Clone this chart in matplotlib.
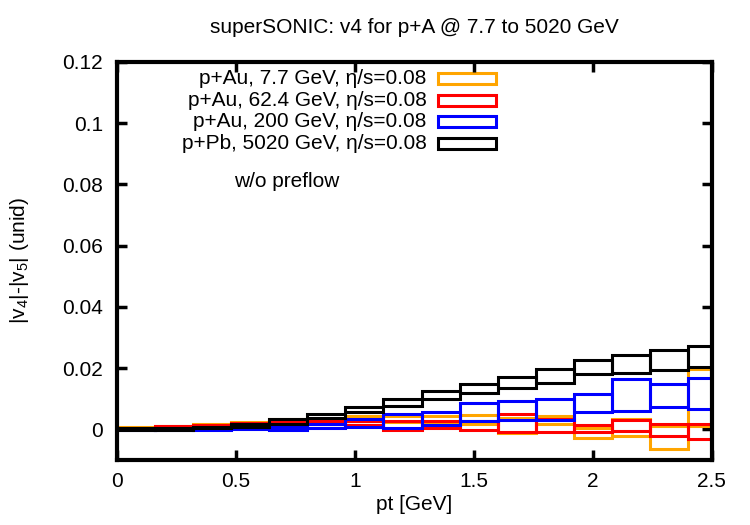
import matplotlib
matplotlib.use("Agg")
import matplotlib.pyplot as plt
from matplotlib.patches import Rectangle
import numpy as np

plt.rcParams['font.family'] = ['Liberation Sans', 'DejaVu Sans']
plt.rcParams['mathtext.fontset'] = 'custom'
plt.rcParams['mathtext.rm'] = 'Liberation Sans'
plt.rcParams['mathtext.it'] = 'Liberation Sans'
plt.rcParams['mathtext.default'] = 'regular'

# pt bins (GeV)
bin_edges = [0.0, 0.16, 0.32, 0.48, 0.64, 0.80, 0.96, 1.12, 1.28,
             1.44, 1.60, 1.76, 1.92, 2.08, 2.24, 2.40, 2.56]

labels = ["p+Au, 7.7 GeV, η/s=0.08",
          "p+Au, 62.4 GeV, η/s=0.08",
          "p+Au, 200 GeV, η/s=0.08",
          "p+Pb, 5020 GeV, η/s=0.08"]
colors = ["#ffa500", "#ff0000", "#0000ff", "#000000"]

# |v4|-|v5| mean and error per bin
au77_val = [0.0005, 0.0008, 0.0014, 0.0021, 0.0028, 0.0028, 0.0035, 0.0035,
            0.0030, 0.0032, 0.0012, 0.0030, -0.0013, 0.0005, -0.0028, 0.0105]
au77_err = [0.0002, 0.0002, 0.0003, 0.0004, 0.0005, 0.0006, 0.0008, 0.0010,
            0.0012, 0.0014, 0.0024, 0.0013, 0.0017, 0.0028, 0.0038, 0.0093]

au624_val = [0.0003, 0.0008, 0.0012, 0.0018, 0.0022, 0.0022, 0.0021, 0.0012,
             0.0016, 0.0012, 0.0020, 0.0013, 0.0002, 0.0012, -0.0002, -0.0008]
au624_err = [0.0002, 0.0002, 0.0003, 0.0004, 0.0005, 0.0006, 0.0006, 0.0014,
             0.0012, 0.0014, 0.0030, 0.0021, 0.0012, 0.0019, 0.0019, 0.0025]

au200_val = [-0.0001, -0.0001, 0.0000, 0.0002, 0.0002, 0.0010, 0.0020, 0.0026,
             0.0035, 0.0057, 0.0062, 0.0065, 0.0085, 0.0112, 0.0110, 0.0117]
au200_err = [0.0002, 0.0002, 0.0002, 0.0002, 0.0005, 0.0007, 0.0013, 0.0023,
             0.0022, 0.0029, 0.0032, 0.0035, 0.0029, 0.0053, 0.0038, 0.0051]

pb5020_val = [0.0000, 0.0001, 0.0006, 0.0012, 0.0025, 0.0043, 0.0065, 0.0088,
              0.0111, 0.0134, 0.0153, 0.0175, 0.0204, 0.0214, 0.0227, 0.0238]
pb5020_err = [0.0003, 0.0003, 0.0003, 0.0005, 0.0008, 0.0007, 0.0008, 0.0012,
              0.0013, 0.0015, 0.0018, 0.0023, 0.0023, 0.0030, 0.0033, 0.0034]

series = [(au77_val, au77_err), (au624_val, au624_err),
          (au200_val, au200_err), (pb5020_val, pb5020_err)]

xticks = [0, 0.5, 1, 1.5, 2, 2.5]
xticklabels = ["0", "0.5", "1", "1.5", "2", "2.5"]
yticks = [0, 0.02, 0.04, 0.06, 0.08, 0.1, 0.12]
yticklabels = ["0", "0.02", "0.04", "0.06", "0.08", "0.1", "0.12"]

FS = 15

fig = plt.figure(figsize=(7.5, 5.25), dpi=100)
ax = fig.add_axes([0.156, 0.124, 0.793, 0.758])

edges = np.array(bin_edges)
for (vals, errs), col in zip(series, colors):
    for i in range(len(vals)):
        x0, x1 = edges[i], edges[i + 1]
        lo = vals[i] - errs[i]
        hi = vals[i] + errs[i]
        ax.add_patch(Rectangle((x0, lo), x1 - x0, hi - lo, fill=False,
                               edgecolor=col, linewidth=2.2, zorder=2))

ax.set_xlim(0, 2.5)
ax.set_ylim(-0.01, 0.12)
ax.set_xticks(xticks)
ax.set_xticklabels(xticklabels)
ax.set_yticks(yticks)
ax.set_yticklabels(yticklabels)
ax.tick_params(direction='in', length=7, width=2.5, top=True, right=True,
               labelsize=FS, colors='black')
ax.tick_params(axis='y', pad=10)
ax.tick_params(axis='x', pad=9)
for s in ax.spines.values():
    s.set_linewidth(3)
    s.set_zorder(5)

ax.set_xlabel("pt [GeV]", fontsize=FS)
ax.set_ylabel("|v$_4$|-|v$_5$| (unid)", fontsize=FS)
ax.xaxis.set_label_coords(0.5, -0.088)
ax.yaxis.set_label_coords(-0.145, 0.5)
ax.set_title("superSONIC: v4 for p+A @ 7.7 to 5020 GeV", fontsize=FS, pad=21)

# legend (gnuplot style: text right aligned, sample box on the right)
ax_w = 595.0
ax_h = 398.0
for k, (lab, col) in enumerate(zip(labels, colors)):
    yc = 1 - (79 + 21.5 * k - 62) / ax_h
    ax.text((427 - 117) / ax_w, yc, lab, transform=ax.transAxes,
            ha='right', va='center', fontsize=FS)
    ax.add_patch(Rectangle(((438 - 117) / ax_w, yc - 5.5 / ax_h), 58 / ax_w, 11 / ax_h,
                           transform=ax.transAxes, fill=False, edgecolor=col,
                           linewidth=2.2, clip_on=False))

ax.text(0.49, 0.0808, "w/o preflow", ha='left', va='center', fontsize=FS)

fig.savefig("out.png", dpi=100)
